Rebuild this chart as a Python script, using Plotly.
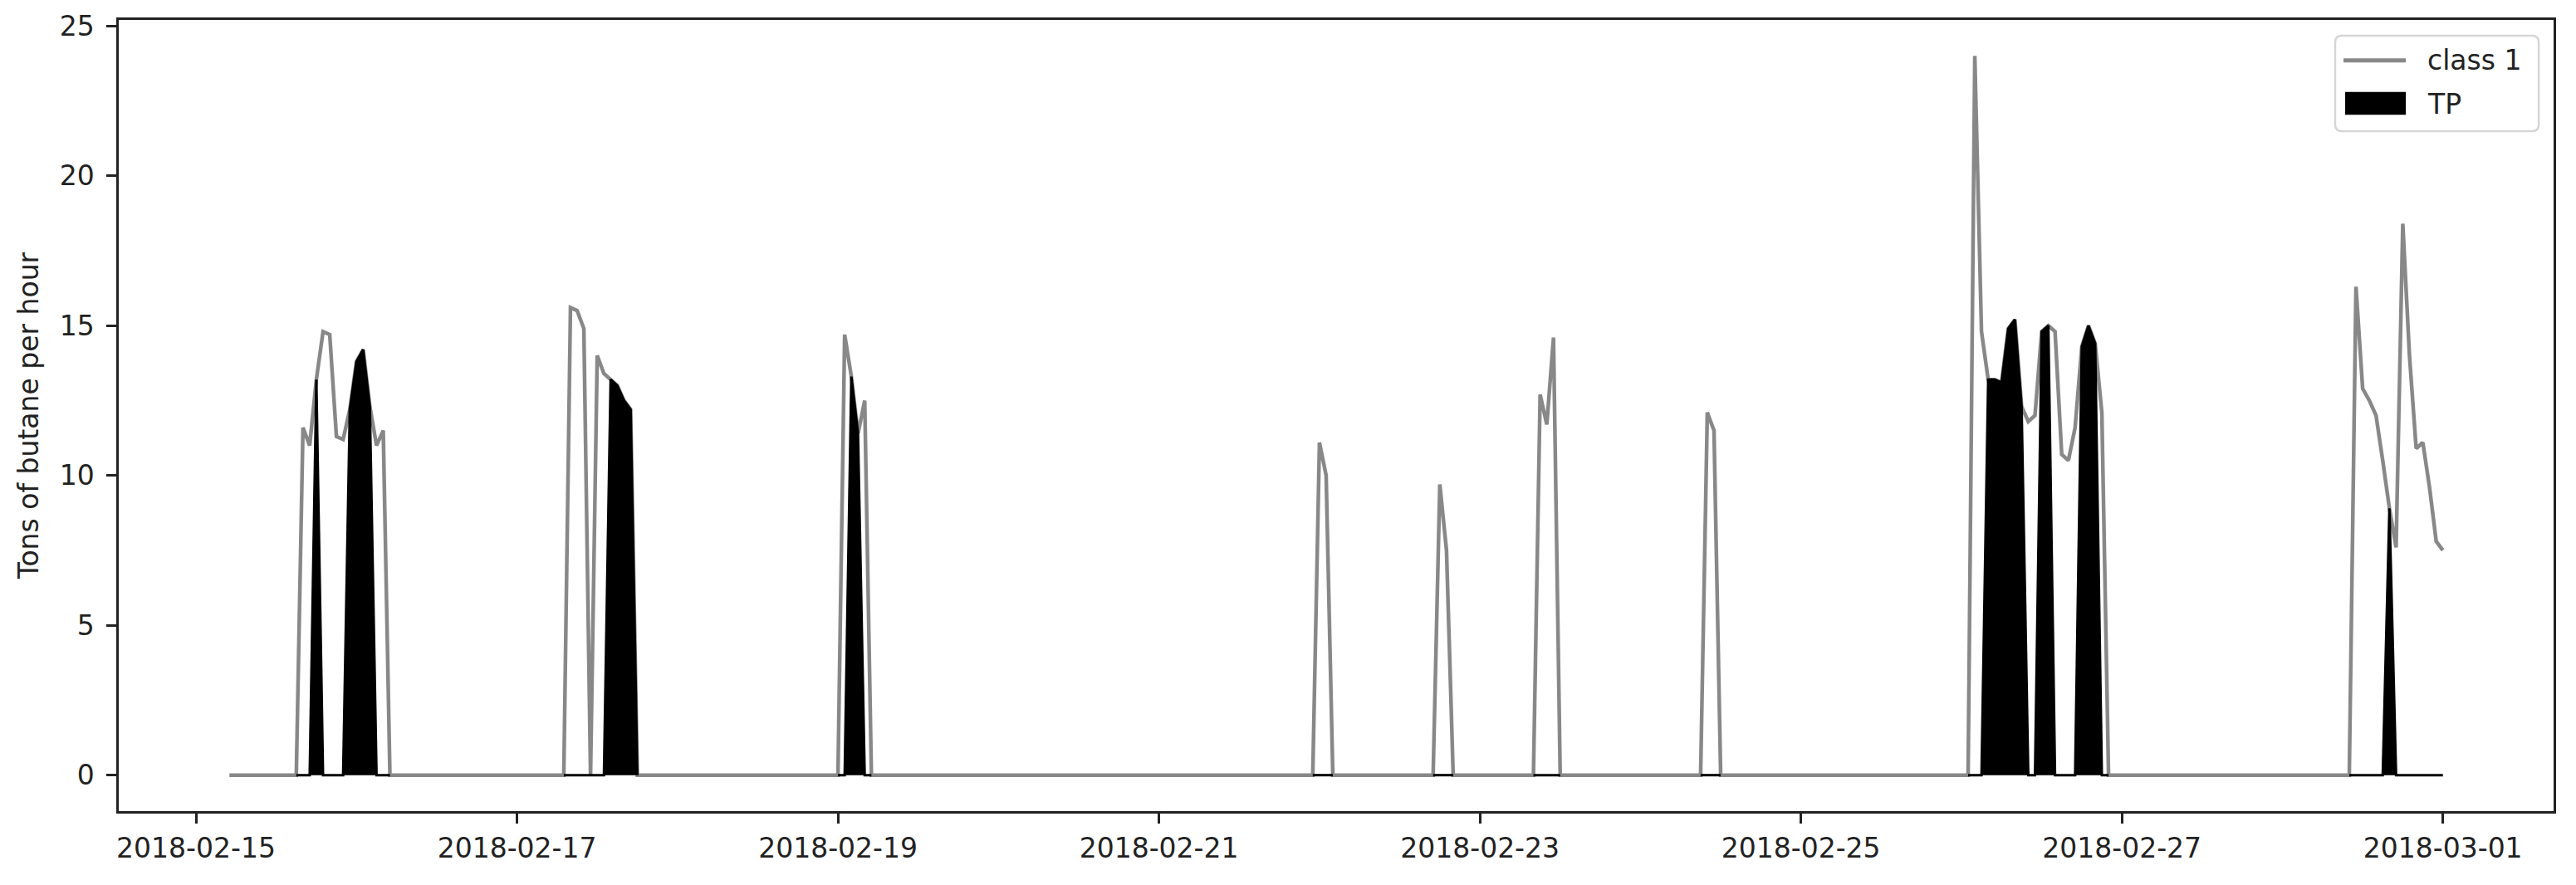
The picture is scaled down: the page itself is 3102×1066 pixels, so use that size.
import pandas as pd
import numpy as np
import plotly.graph_objects as go

series_start = "2018-02-15 05:00"
series_end = "2018-03-01 00:00"

# hourly readings of each burst; the series sits at 0 outside them
event_starts = ["2018-02-15 15:00", "2018-02-17 07:00", "2018-02-19 00:00",
                "2018-02-21 23:00", "2018-02-22 17:00", "2018-02-23 08:00",
                "2018-02-24 09:00", "2018-02-26 01:00", "2018-02-28 10:00"]

event_values = [
    [0, 11.6, 11.0, 13.2, 14.8, 14.7, 11.3, 11.2, 12.2, 13.8, 14.2, 12.3, 11.0, 11.5, 0],
    [0, 15.6, 15.5, 14.9, 0, 14.0, 13.4, 13.2, 13.0, 12.5, 12.2, 0],
    [0, 14.7, 13.3, 11.4, 12.5, 0],
    [0, 11.1, 10.0, 0],
    [0, 9.7, 7.5, 0],
    [0, 12.7, 11.7, 14.6, 0],
    [0, 12.1, 11.5, 0],
    [0, 24.0, 14.8, 13.2, 13.2, 13.1, 14.9, 15.2, 12.3, 11.8, 12.0, 14.8, 15.0,
     14.8, 10.7, 10.5, 11.6, 14.3, 15.0, 14.4, 12.1, 0],
    [0, 16.3, 12.9, 12.5, 12.0, 10.5, 8.9, 7.6, 18.4, 14.0, 10.9, 11.1, 9.6, 7.8, 7.5],
]

# 1 = true positive hour
event_tp = [
    [0, 0, 0, 1, 0, 0, 0, 0, 1, 1, 1, 1, 0, 0, 0],
    [0, 0, 0, 0, 0, 0, 0, 1, 1, 1, 1, 0],
    [0, 0, 1, 1, 0, 0],
    [0, 0, 0, 0],
    [0, 0, 0, 0],
    [0, 0, 0, 0, 0],
    [0, 0, 0, 0],
    [0, 0, 0, 1, 1, 1, 1, 1, 1, 0, 0, 1, 1, 0, 0, 0, 0, 1, 1, 1, 0, 0],
    [0, 0, 0, 0, 0, 0, 1, 0, 0, 0, 0, 0, 0, 0, 0],
]

legend_labels = ["class 1", "TP"]

times = pd.date_range(series_start, series_end, freq="h")
class1 = pd.Series(0.0, index=times)
tp = pd.Series(np.nan, index=times)
for start, vals, flags in zip(event_starts, event_values, event_tp):
    idx = pd.date_range(start, periods=len(vals), freq="h")
    class1[idx] = vals
    tp[idx] = [v if f else 0.0 for v, f in zip(vals, flags)]

# matplotlib-like 5% margins
xpad = (times[-1] - times[0]) * 0.05
ypad = (class1.max() - class1.min()) * 0.05

grey = "#888888"
ink = "#222222"

fig = go.Figure()
fig.add_trace(go.Scatter(x=times, y=class1, mode="lines", name=legend_labels[0],
                         line=dict(color=grey, width=4.5), showlegend=False))
fig.add_trace(go.Scatter(x=times, y=tp, mode="lines", name=legend_labels[1],
                         fill="tozeroy", fillcolor="black", connectgaps=False,
                         line=dict(color="black", width=3), showlegend=False))

axis_style = dict(showline=True, mirror=True, linecolor=ink, linewidth=2.5,
                  ticks="outside", ticklen=12, tickwidth=2.5, tickcolor=ink,
                  tickfont=dict(size=33, color=ink), showgrid=False,
                  zeroline=False, automargin=False)

fig.update_xaxes(**axis_style, type="date", tickformat="%Y-%m-%d",
                 tick0="2018-02-15", dtick=2 * 86400000, ticklabelstandoff=2,
                 range=[times[0] - xpad, times[-1] + xpad])
fig.update_yaxes(**axis_style, dtick=5, tick0=0, ticklabelstandoff=8,
                 range=[class1.min() - ypad, class1.max() + ypad],
                 title=dict(text="Tons of butane per hour", standoff=16,
                            font=dict(size=33, color=ink)))

# legend box drawn like matplotlib's (rounded frame, long line, patch)
x0, x1, y0, y1 = 0.9103, 0.9939, 0.8594, 0.9801
rx, ry = 0.0027, 0.0084
frame = (f"M{x0 + rx},{y1} L{x1 - rx},{y1} Q{x1},{y1} {x1},{y1 - ry} "
         f"L{x1},{y0 + ry} Q{x1},{y0} {x1 - rx},{y0} L{x0 + rx},{y0} "
         f"Q{x0},{y0} {x0},{y0 + ry} L{x0},{y1 - ry} Q{x0},{y1} {x0 + rx},{y1} Z")
fig.add_shape(type="path", path=frame, xref="paper", yref="paper",
              fillcolor="rgba(255,255,255,0.8)", line=dict(color="#d6d6d6", width=2.5))
fig.add_shape(type="line", xref="paper", yref="paper", x0=0.9137, x1=0.9393,
              y0=0.9489, y1=0.9489, line=dict(color=grey, width=5))
fig.add_shape(type="rect", xref="paper", yref="paper", x0=0.9144, x1=0.9393,
              y0=0.8801, y1=0.9090, fillcolor="black", line=dict(width=0))
for label, ty in zip(legend_labels, [0.9489, 0.8940]):
    fig.add_annotation(text=label, xref="paper", yref="paper", x=0.9475, y=ty,
                       xanchor="left", yanchor="middle", showarrow=False,
                       font=dict(size=33, color=ink))

fig.update_layout(
    width=3102, height=1066,
    margin=dict(l=143, r=27, t=24, b=89),
    plot_bgcolor="white", paper_bgcolor="white",
    font=dict(family="DejaVu Sans", size=33, color=ink),
    showlegend=False,
)

fig.write_html("out.html", config={"displayModeBar": False},
               post_script="document.body.style.margin='0';")
